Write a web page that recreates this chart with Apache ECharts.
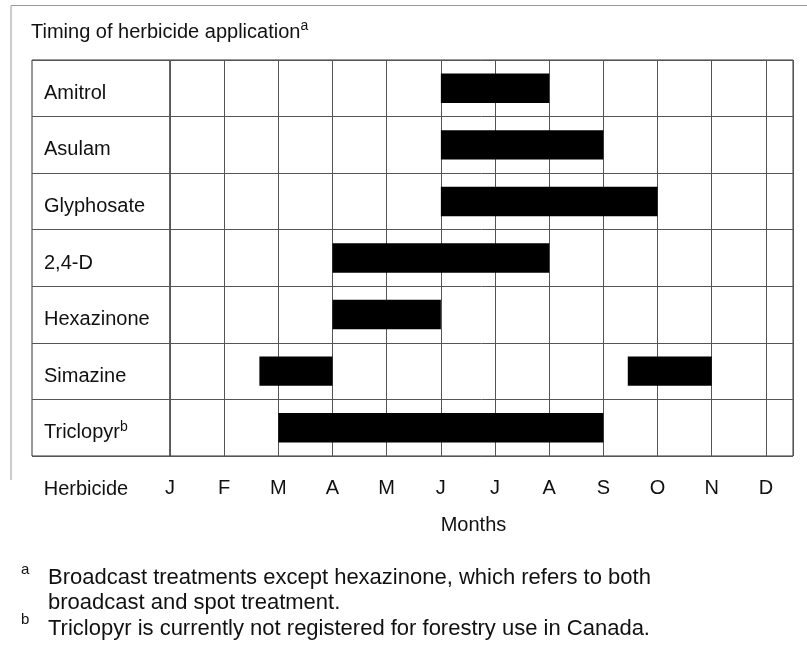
<!DOCTYPE html>
<html>
<head>
<meta charset="utf-8">
<script src="https://cdn.jsdelivr.net/npm/echarts@6/dist/echarts.min.js"></script>
<style>
  html, body { margin: 0; padding: 0; background: #fff; }
  #chart { width: 807px; height: 671px; }
</style>
</head>
<body>
<div id="chart"></div>
<script>
// herbicides (rows, top to bottom) and month letters (x axis)
var herbicides = ['Amitrol', 'Asulam', 'Glyphosate', '2,4-D', 'Hexazinone', 'Simazine', 'Triclopyr'];
var months = ['J', 'F', 'M', 'A', 'M', 'J', 'J', 'A', 'S', 'O', 'N', 'D'];

// application periods, in months from start of January (0 = J, 1 = F ...)
var periodRow   = [0, 1, 2, 3, 4, 5, 5, 6];
var periodStart = [5, 5, 5, 3, 3, 1.65, 8.45, 2];
var periodEnd   = [7, 8, 9, 7, 5, 3, 10, 8];

var footnoteA = 'Broadcast treatments except hexazinone, which refers to both\nbroadcast and spot treatment.';
var footnoteB = 'Triclopyr is currently not registered for forestry use in Canada.';

var font = "'Liberation Sans', Arial, Helvetica, sans-serif";
var lineColor = '#555';

var periods = periodRow.map(function (r, i) {
    return [periodStart[i], periodEnd[i], r];
});

// superscript style shared by the title and the Triclopyr label
var supStyle = { fontSize: 14, lineHeight: 14, verticalAlign: 'top', color: '#111', fontFamily: font };

var myChart = echarts.init(document.getElementById('chart'));
var option = {
    backgroundColor: '#fff',
    animation: false,
    textStyle: { fontFamily: font, color: '#111' },
    title: {
        text: 'Timing of herbicide application{sup|a}',
        left: 31,
        top: 19,
        padding: 0,
        textStyle: {
            fontFamily: font,
            fontSize: 20,
            lineHeight: 26,
            fontWeight: 'normal',
            color: '#111',
            rich: { sup: supStyle }
        }
    },
    grid: [
        // month columns
        { left: 170, right: 14, top: 60, bottom: 215, show: true, borderColor: '#333', borderWidth: 1 },
        // herbicide name column
        { left: 32, width: 138, top: 60, bottom: 215, show: true, borderColor: '#333', borderWidth: 1 }
    ],
    xAxis: [
        {
            type: 'value',
            gridIndex: 0,
            min: 0,
            max: 11.5,
            interval: 1,
            axisLine: { show: false },
            axisTick: { show: false },
            splitLine: { show: true, lineStyle: { color: lineColor, width: 1 } },
            axisLabel: {
                margin: 22,
                fontSize: 20,
                color: '#111',
                fontFamily: font,
                formatter: function (v) {
                    return Number.isInteger(v) && months[v] ? months[v] : '';
                }
            },
            name: 'Months',
            nameLocation: 'middle',
            nameGap: 59,
            nameTextStyle: { fontSize: 20, color: '#111', fontFamily: font, padding: [0, 16, 0, 0] }
        },
        {
            type: 'value',
            gridIndex: 1,
            min: 0,
            max: 1,
            axisLine: { show: false },
            axisTick: { show: false },
            axisLabel: { show: false },
            splitLine: { show: false },
            name: 'Herbicide',
            nameLocation: 'middle',
            nameGap: 23,
            nameTextStyle: { fontSize: 20, color: '#111', fontFamily: font, padding: [0, 30, 0, 0] }
        }
    ],
    yAxis: [
        {
            type: 'category',
            gridIndex: 0,
            inverse: true,
            data: herbicides,
            axisLine: { show: false },
            axisTick: { show: false },
            axisLabel: { show: false },
            splitLine: { show: true, interval: 0, lineStyle: { color: lineColor, width: 1 } }
        },
        {
            type: 'category',
            gridIndex: 1,
            inverse: true,
            data: herbicides,
            axisLine: { show: false },
            axisTick: { show: false },
            splitLine: { show: true, interval: 0, lineStyle: { color: lineColor, width: 1 } },
            axisLabel: {
                inside: true,
                interval: 0,
                margin: 12,
                fontSize: 20,
                lineHeight: 26,
                color: '#111',
                fontFamily: font,
                padding: [10, 0, 0, 0],
                formatter: function (v) {
                    return v === 'Triclopyr' ? v + '{sup|b}' : v;
                },
                rich: { sup: supStyle }
            }
        }
    ],
    series: [
        {
            type: 'custom',
            xAxisIndex: 0,
            yAxisIndex: 0,
            data: periods,
            encode: { x: [0, 1], y: 2 },
            renderItem: function (params, api) {
                var s = api.coord([api.value(0), api.value(2)]);
                var e = api.coord([api.value(1), api.value(2)]);
                var h = api.size([0, 1])[1] * 0.52;
                return {
                    type: 'rect',
                    shape: { x: s[0], y: s[1] - h / 2, width: e[0] - s[0], height: h },
                    style: { fill: '#000' }
                };
            }
        }
    ],
    graphic: [
        // faint outer frame of the figure
        { type: 'polyline', silent: true, shape: { points: [[11, 480], [11, 5.5], [807, 5.5]] },
          style: { stroke: '#999', lineWidth: 1, fill: null } },
        // footnotes
        { type: 'text', left: 21, top: 562, style: { text: 'a', font: '15px ' + font, fill: '#111' } },
        { type: 'text', left: 48, top: 565, style: { text: footnoteA, font: '22px ' + font, lineHeight: 25, fill: '#111' } },
        { type: 'text', left: 21, top: 612, style: { text: 'b', font: '15px ' + font, fill: '#111' } },
        { type: 'text', left: 48, top: 616, style: { text: footnoteB, font: '22px ' + font, lineHeight: 25, fill: '#111' } }
    ]
};
myChart.setOption(option);
window.addEventListener('resize', function () {
    myChart.resize();
});
</script>
</body>
</html>
